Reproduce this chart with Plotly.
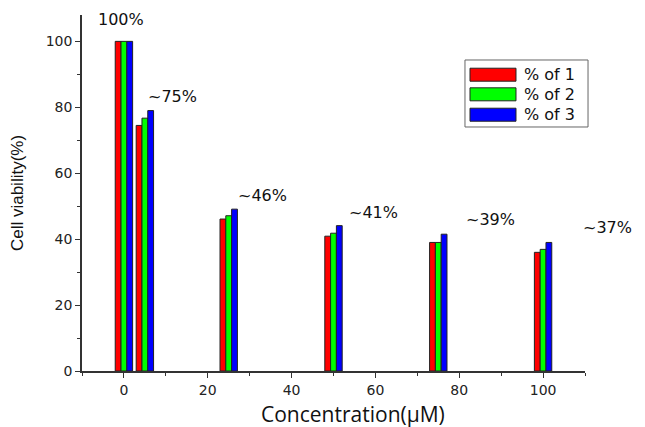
import plotly.graph_objects as go

concentration = [0, 5, 25, 50, 75, 100]
series_names = ["% of 1", "% of 2", "% of 3"]
viability_1 = [100, 74.5, 46.1, 40.9, 39.0, 36.0]
viability_2 = [100, 76.7, 47.1, 41.8, 39.0, 36.9]
viability_3 = [100, 79.0, 49.1, 44.1, 41.5, 39.0]
colors = ["#ff0000", "#00ff00", "#0000ff"]

label_text = ["100%", "~75%", "~46%", "~41%", "~39%", "~37%"]
label_x = [-0.8, 11.5, 33.0, 59.6, 87.5, 115.3]
label_y = [106.7, 83.3, 53.2, 48.0, 46.1, 43.4]

x_title = "Concentration(μM)"
y_title = "Cell viability(%)"

X_RANGE = [-10, 110]
Y_RANGE = [0, 108]

fig = go.Figure()
for name, vals, c in zip(series_names, [viability_1, viability_2, viability_3], colors):
    fig.add_trace(go.Bar(
        x=concentration, y=vals, name=name, showlegend=False,
        marker=dict(color=c, line=dict(color="#222222", width=1)),
    ))

# value labels (paper coords so the rightmost one outside the x range still shows)
for t, x, y in zip(label_text, label_x, label_y):
    px = (x - X_RANGE[0]) / (X_RANGE[1] - X_RANGE[0])
    py = (y - Y_RANGE[0]) / (Y_RANGE[1] - Y_RANGE[0])
    fig.add_annotation(x=px, y=py, text=t, showarrow=False, xref="paper", yref="paper",
                       xanchor="center", yanchor="middle",
                       font=dict(family="DejaVu Sans", size=16, color="#111111"))

# legend drawn as a boxed key
box = dict(x0=0.7614, x1=1.006, y0=0.6854, y1=0.8736)
fig.add_shape(type="rect", xref="paper", yref="paper", **box,
              line=dict(color="#666666", width=1), fillcolor="white", layer="above")
row_y = [0.8323, 0.7772, 0.7199]
sw_h = 0.0365
for name, c, ry in zip(series_names, colors, row_y):
    fig.add_shape(type="rect", xref="paper", yref="paper",
                  x0=0.7714, x1=0.8628, y0=ry - sw_h / 2, y1=ry + sw_h / 2,
                  line=dict(color="#222222", width=1), fillcolor=c, layer="above")
    fig.add_annotation(x=0.8748, y=ry, xref="paper", yref="paper", text=name,
                       showarrow=False, xanchor="left", yanchor="middle",
                       font=dict(family="DejaVu Sans", size=16, color="#111111"))

# x axis title, placed as in the original (slightly right of centre)
fig.add_annotation(x=0.539, y=-0.122, xref="paper", yref="paper", text=x_title,
                   showarrow=False, xanchor="center", yanchor="middle",
                   font=dict(family="Open Sans", size=21, color="#111111"))

axis_common = dict(
    showline=True, linecolor="#333333", linewidth=1.5,
    ticks="outside", ticklen=5, tickwidth=1.2, tickcolor="#333333",
    showgrid=False, zeroline=False,
    tickfont=dict(family="DejaVu Sans", size=14, color="#222222"),
    minor=dict(ticks="outside", ticklen=3, tickwidth=1, tickcolor="#333333", dtick=10),
)

fig.update_layout(
    width=637, height=419,
    margin=dict(l=74, r=60, t=7, b=56),
    paper_bgcolor="white", plot_bgcolor="white",
    barmode="group", bargap=0.17, bargroupgap=0,
    xaxis=dict(range=X_RANGE, dtick=20, tick0=0, **axis_common),
    yaxis=dict(range=Y_RANGE, dtick=20, tick0=0,
               title=dict(text=y_title, standoff=18,
                          font=dict(family="Liberation Sans, Arial", size=17, color="#111111")),
               **axis_common),
    showlegend=False,
)

fig.write_html("out.html")
